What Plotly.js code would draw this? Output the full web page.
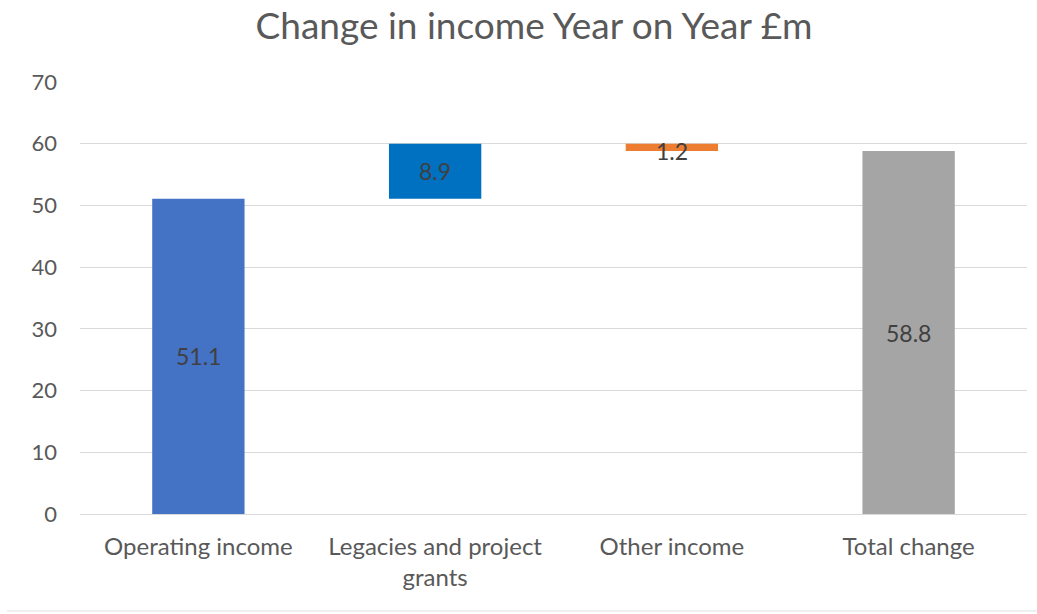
<!DOCTYPE html>
<html>
<head>
<meta charset="utf-8">
<script src="https://cdn.plot.ly/plotly-3.0.1.min.js"></script>
<style>html,body{margin:0;padding:0;background:#fff;}#chart{width:1037px;height:614px;}</style>
</head>
<body>
<div id="chart"></div>
<script>
const categories = ["Operating income", "Legacies and project<br>grants", "Other income", "Total change"];
const changes = [51.1, 8.9, -1.2, 58.8];
const isTotal = [false, false, false, true];
const labels = ["51.1", "8.9", "1.2", "58.8"];
const colors = ["#4472C4", "#0070C0", "#ED7D31", "#A5A5A5"];
const yTicks = [0, 10, 20, 30, 40, 50, 60, 70];

// compute waterfall bases
const bases = [], heights = [];
let running = 0;
changes.forEach((v, i) => {
  if (isTotal[i]) { bases.push(0); heights.push(v); running = v; }
  else if (v >= 0) { bases.push(running); heights.push(v); running += v; }
  else { bases.push(running + v); heights.push(-v); running += v; }
});

const FONT = "Lato, 'Open Sans', sans-serif";

const trace = {
  type: "bar",
  x: categories,
  y: heights,
  base: bases,
  width: 0.39,
  marker: {color: colors, line: {width: 0}},
  hoverinfo: "skip",
  showlegend: false
};

const annotations = categories.map((c, i) => ({
  x: c, y: bases[i] + heights[i] / 2, xref: "x", yref: "y",
  text: labels[i], showarrow: false,
  yshift: i === 2 ? -4 : 0,
  font: {family: FONT, size: 23, color: "#404040"}
}));

const layout = {
  width: 1037, height: 614,
  margin: {l: 80, r: 10, t: 82, b: 100},
  paper_bgcolor: "#fff", plot_bgcolor: "#fff",
  title: {text: "Change in income Year on Year £m", x: 0.515, xanchor: "center", y: 0.958, yanchor: "middle",
          font: {family: FONT, size: 37, color: "#595959"}},
  xaxis: {tickfont: {family: FONT, size: 24, color: "#595959"},
          showgrid: false, showline: false, ticks: "", fixedrange: true, ticklabelstandoff: 16},
  yaxis: {range: [0, 70], tickvals: yTicks, ticktext: yTicks.map(String),
          tickfont: {family: FONT, size: 22, color: "#595959"},
          gridcolor: "#D9D9D9", gridwidth: 1, zeroline: true, zerolinecolor: "#D9D9D9",
          showline: false, ticks: "", ticklabelstandoff: 22},
  annotations: annotations,
  shapes: [{type: "line", xref: "paper", yref: "paper", x0: -0.077, x1: 1.01, y0: -0.2245, y1: -0.2245,
            line: {color: "#E0E0E0", width: 1}}],
  bargap: 0.6
};

Plotly.newPlot("chart", [trace], layout, {displayModeBar: false, staticPlot: true});
</script>
</body>
</html>
